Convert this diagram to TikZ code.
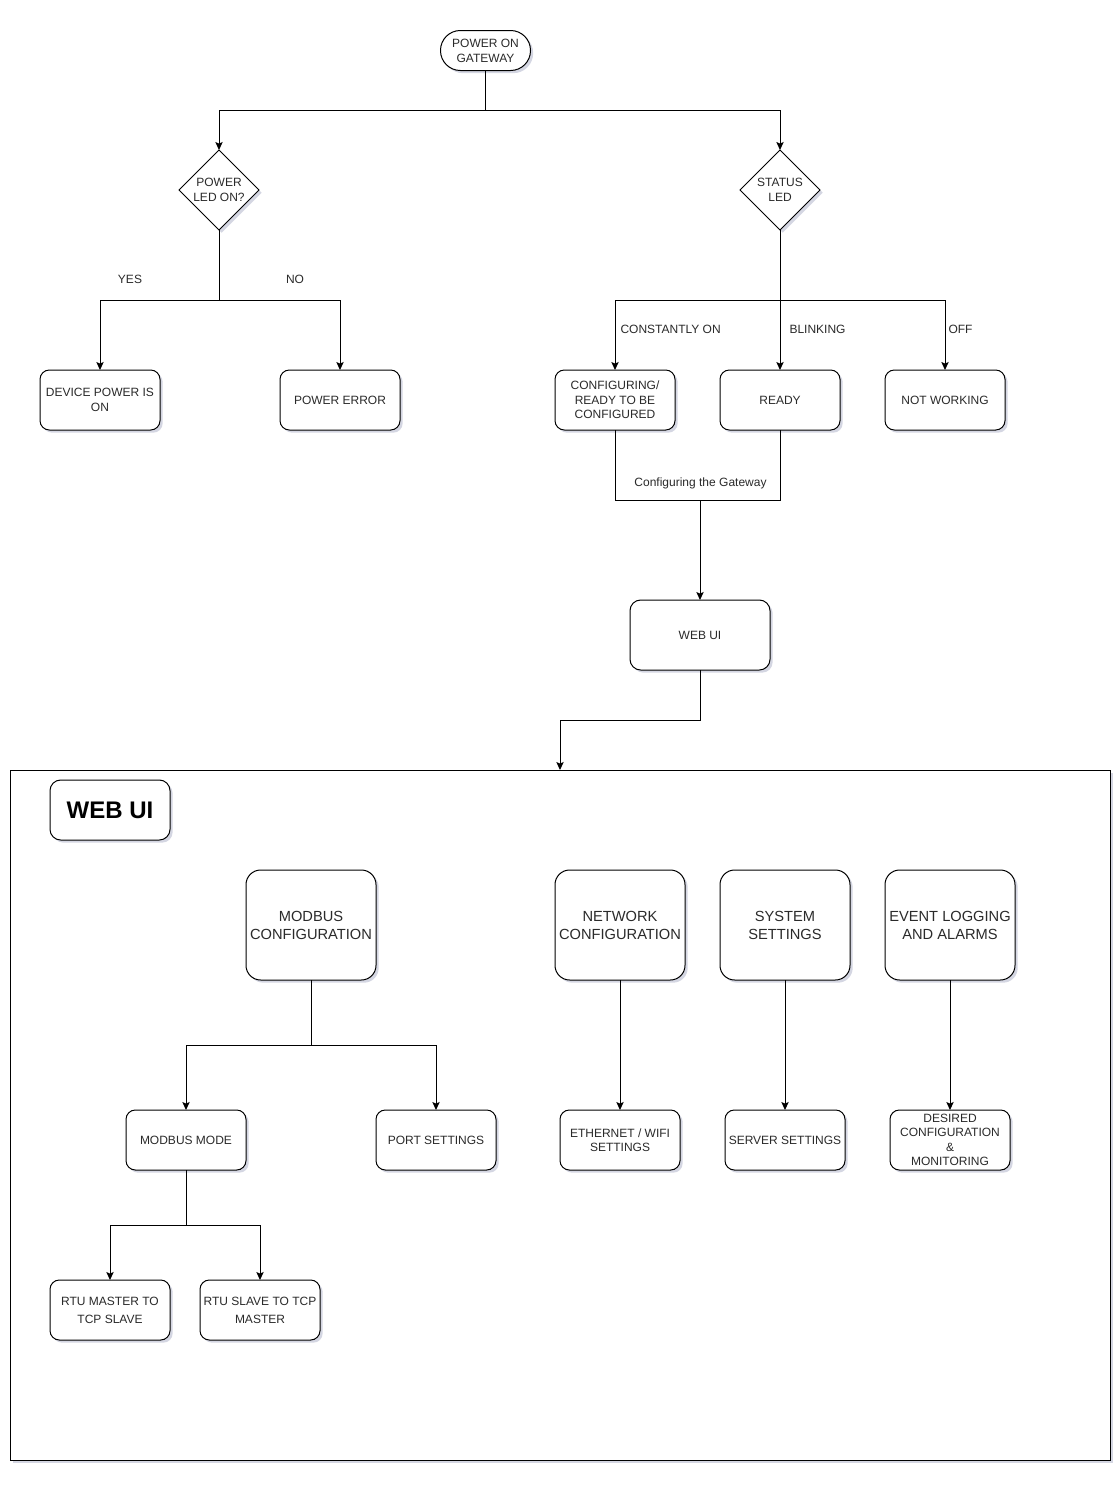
\documentclass[tikz,border=0pt]{standalone}
\usepackage{fontspec}
\setmainfont{Liberation Sans}
\usetikzlibrary{arrows.meta,shapes.geometric,shadows,calc}
\definecolor{txt}{HTML}{2A2A2A}
\definecolor{shd}{HTML}{B8BCD0}
\begin{document}
\begin{tikzpicture}[x=0.75pt,y=-0.75pt,
  line width=0.75pt,
  shad/.style={drop shadow={shadow xshift=2pt,shadow yshift=-2pt,fill=shd,opacity=0.6}},
  basebox/.style={draw=black, fill=white, shad, align=center, inner sep=0pt, outer sep=0pt,
    text=txt, font=\fontsize{9}{10.8}\selectfont},
  box/.style={basebox, rounded corners=7pt, minimum width=90pt, minimum height=45pt},
  bigbox/.style={basebox, rounded corners=11pt, minimum width=97.5pt, minimum height=82.5pt,
    font=\fontsize{11}{13.5}\selectfont},
  dia/.style={basebox, diamond, aspect=1, minimum width=60pt, minimum height=60pt},
  lbl/.style={text=txt, inner sep=0pt, font=\fontsize{9}{10}\selectfont},
  arr/.style={-{Stealth[length=6pt,width=5.5pt,inset=1.2pt]}}
]
\fill[white] (0,0) rectangle (1115,1503);
\useasboundingbox (0,0) rectangle (1115,1503);

% container
\node[draw=black, fill=white, shad, minimum width=825pt, minimum height=517.5pt, inner sep=0pt, outer sep=0pt] (cont) at (560,1115) {};

% top flow
\node[basebox, rounded corners=14.9pt, minimum width=67.5pt, minimum height=30pt,
  font=\fontsize{9}{11.2}\selectfont] (pon) at (485.5,50.5) {POWER ON\\GATEWAY};
\node[dia] (pled) at (219,190) {POWER\\LED ON?};
\node[dia] (sled) at (780,190) {STATUS\\LED};

\node[box] (dev) at (100,400) {DEVICE POWER IS\\ON};
\node[box] (perr) at (340,400) {POWER ERROR};
\node[box] (conf) at (615,400) {CONFIGURING/\\READY TO BE\\CONFIGURED};
\node[box] (ready) at (780,400) {READY};
\node[box] (nw) at (945,400) {NOT WORKING};
\node[basebox, rounded corners=8pt, minimum width=105pt, minimum height=52.5pt] (webui) at (700,635) {WEB UI};

\coordinate (j1) at (485.5,110);
\draw (pon.south) -- (j1);
\draw[arr] (j1) -| (pled.north);
\draw[arr] (j1) -| (sled.north);

\coordinate (j2) at (219,300);
\draw (pled.south) -- (j2);
\draw[arr] (j2) -| (dev.north);
\draw[arr] (j2) -| (perr.north);
\node[lbl] (yes) at (130,279) {YES};
\node[lbl] (no) at (295,279) {NO};

\coordinate (j3) at (780,300);
\draw[arr] (sled.south) -- (ready.north);
\draw[arr] (j3) -| (conf.north);
\draw[arr] (j3) -| (nw.north);
\node[lbl, anchor=west] (con) at (620,329) {CONSTANTLY ON};
\node[lbl, anchor=west] (blk) at (789,329) {BLINKING};
\node[lbl, anchor=west] (off) at (948,329) {OFF};

\coordinate (j4) at (700,500);
\draw (conf.south) -- (conf.south |- j4) -- (ready.south |- j4) -- (ready.south);
\draw[arr] (j4) -- (webui.north);
\node[lbl] (cfg) at (700.5,483) {Configuring the Gateway};

\coordinate (j5) at (560,720);
\draw[arr] (webui.south) |- (j5) -- (j5 |- cont.north);

% inside container
\node[basebox, rounded corners=8pt, minimum width=90pt, minimum height=45pt,
  font=\fontsize{18}{20}\selectfont\bfseries, text=black] (title) at (110,810) {WEB UI};

\node[bigbox] (modbus) at (311,925) {MODBUS\\CONFIGURATION};
\node[bigbox] (netw) at (620,925) {NETWORK\\CONFIGURATION};
\node[bigbox] (sys) at (785,925) {SYSTEM\\SETTINGS};
\node[bigbox] (evt) at (950,925) {EVENT LOGGING\\AND ALARMS};

\node[box] (mmode) at (186,1140) {MODBUS MODE};
\node[box] (port) at (436,1140) {PORT SETTINGS};
\node[box] (eth) at (620,1140) {ETHERNET / WIFI\\SETTINGS};
\node[box] (srv) at (785,1140) {SERVER SETTINGS};
\node[box] (des) at (950,1140) {DESIRED\\CONFIGURATION\\\&\\MONITORING};

\node[box, font=\fontsize{9}{13.5}\selectfont] (rtum) at (110,1310) {RTU MASTER TO\\TCP SLAVE};
\node[box, font=\fontsize{9}{13.5}\selectfont] (rtus) at (260,1310) {RTU SLAVE TO TCP\\MASTER};

\coordinate (j6) at (311,1045);
\draw (modbus.south) -- (j6);
\draw[arr] (j6) -| (mmode.north);
\draw[arr] (j6) -| (port.north);
\draw[arr] (netw.south) -- (eth.north);
\draw[arr] (sys.south) -- (srv.north);
\draw[arr] (evt.south) -- (des.north);

\coordinate (j7) at (186,1225);
\draw (mmode.south) -- (j7);
\draw[arr] (j7) -| (rtum.north);
\draw[arr] (j7) -| (rtus.north);
\end{tikzpicture}
\end{document}
